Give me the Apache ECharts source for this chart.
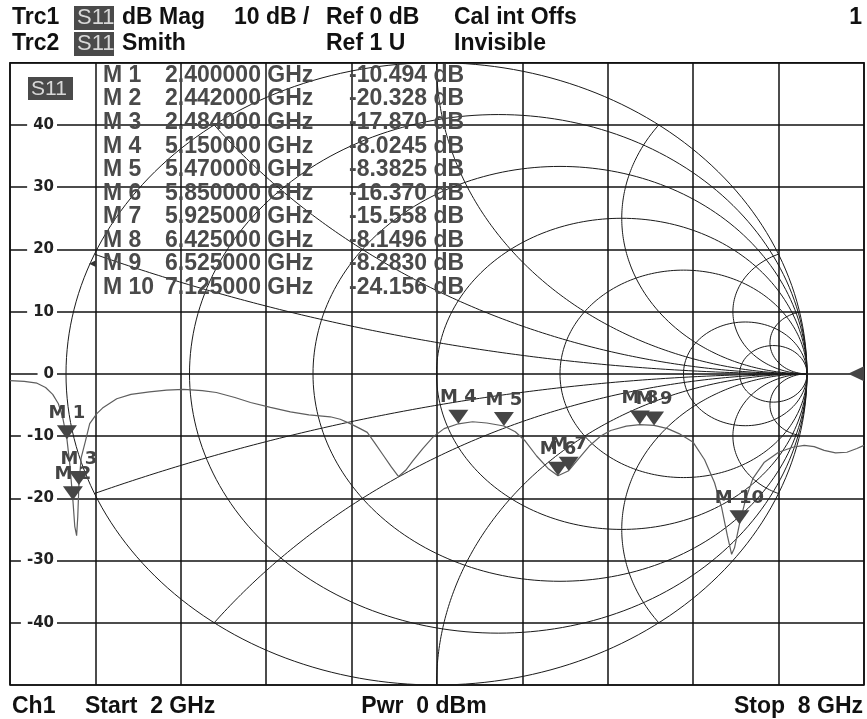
<!DOCTYPE html>
<html>
<head>
<meta charset="utf-8">
<script src="https://cdn.jsdelivr.net/npm/echarts@6/dist/echarts.min.js"></script>
<style>
  html, body { margin: 0; padding: 0; background: #fff; }
  #chart { width: 867px; height: 719px; }
</style>
</head>
<body>
<div id="chart"></div>
<script>
// Trc1: S11 dB Mag
const freqGHz = [2.00, 2.10, 2.19, 2.25, 2.30, 2.34, 2.37, 2.40, 2.42, 2.442, 2.455, 2.468, 2.476, 2.484,
  2.50, 2.53, 2.56, 2.61, 2.65, 2.75, 2.85, 2.98, 3.10, 3.22, 3.35, 3.45, 3.58, 3.69, 3.83, 3.97,
  4.10, 4.25, 4.32, 4.39, 4.46, 4.51, 4.56, 4.62, 4.68, 4.73, 4.78, 4.83, 4.90, 4.97, 5.05, 5.15,
  5.25, 5.35, 5.47, 5.55, 5.62, 5.70, 5.78, 5.85, 5.925, 6.00, 6.07, 6.15, 6.22, 6.33, 6.425, 6.525,
  6.62, 6.70, 6.80, 6.88, 6.95, 7.00, 7.04, 7.07, 7.09, 7.125, 7.17, 7.22, 7.30, 7.40, 7.50, 7.58,
  7.65, 7.72, 7.80, 7.88, 7.95, 8.00];
const s11dB = [-1.1, -1.2, -1.5, -2.2, -3.3, -4.8, -7.0, -10.494, -14.5, -20.328, -24.5, -26.0, -23.0, -17.87,
  -13.5, -10.8, -8.0, -6.4, -5.5, -4.0, -3.3, -2.9, -2.6, -2.5, -2.7, -3.0, -3.8, -4.6, -5.4, -6.1,
  -6.6, -6.9, -7.3, -8.0, -8.8, -9.4, -11.0, -13.0, -15.0, -16.5, -15.5, -14.0, -12.0, -10.2, -8.8, -8.0245,
  -7.7, -7.9, -8.3825, -9.3, -10.8, -13.2, -15.2, -16.37, -15.558, -13.5, -11.6, -10.0, -9.1, -8.4, -8.1496, -8.283,
  -8.8, -9.6, -11.0, -13.8, -17.5, -21.5, -26.0, -29.0, -28.0, -24.156, -20.0, -16.8, -14.2, -12.6, -11.8, -11.5,
  -11.7, -12.3, -12.7, -12.6, -12.0, -11.5];

// markers
const markerNames = ['M 1', 'M 2', 'M 3', 'M 4', 'M 5', 'M 6', 'M 7', 'M 8', 'M 9', 'M 10'];
const markerFreq = [2.4, 2.442, 2.484, 5.15, 5.47, 5.85, 5.925, 6.425, 6.525, 7.125];
const markerDb = [-10.494, -20.328, -17.87, -8.0245, -8.3825, -16.37, -15.558, -8.1496, -8.283, -24.156];

// Trc2 Smith grid (trace itself invisible)
const smithR = [0, 0.2, 0.5, 1, 2, 5, 10];
const smithX = [0.2, 0.5, 1, 2, 5, 10];

const chart = echarts.init(document.getElementById('chart'));

function resistanceCircle(r) {
  const cx = r / (1 + r), rad = 1 / (1 + r), pts = [];
  for (let i = 0; i <= 240; i++) {
    const a = (i / 240) * 2 * Math.PI;
    pts.push([cx + rad * Math.cos(a), rad * Math.sin(a)]);
  }
  return pts;
}

function reactanceArc(x) {
  const ax = Math.abs(x), c = 1 / ax, sign = x > 0 ? 1 : -1;
  const px = (ax * ax - 1) / (ax * ax + 1), py = 2 * ax / (ax * ax + 1);
  let end = Math.atan2(py - c, px - 1);
  if (end > -Math.PI / 2) end -= 2 * Math.PI;
  const start = -Math.PI / 2, pts = [];
  for (let i = 0; i <= 160; i++) {
    const a = start + (end - start) * i / 160;
    pts.push([1 + c * Math.cos(a), sign * (c + c * Math.sin(a))]);
  }
  return pts;
}

const smithSeries = [];
smithR.forEach(r => smithSeries.push(resistanceCircle(r)));
smithX.forEach(x => { smithSeries.push(reactanceArc(x)); smithSeries.push(reactanceArc(-x)); });

const font = 'bold 23px "Liberation Sans", Arial, sans-serif';
const txt = (x, y, text, extra) => ({
  type: 'text', x, y, z: 10,
  style: Object.assign({ text, font, fill: '#111', textVerticalAlign: 'middle' }, extra || {})
});

const graphic = [
  txt(12, 18, 'Trc1'),
  txt(12, 44, 'Trc2'),
  { type: 'rect', z: 9, shape: { x: 74, y: 6, width: 40, height: 24 }, style: { fill: '#4a4a4a' } },
  { type: 'rect', z: 9, shape: { x: 74, y: 32, width: 40, height: 24 }, style: { fill: '#4a4a4a' } },
  txt(77, 18, 'S11', { font: '22px "Liberation Sans", Arial, sans-serif', fill: '#d8d8d8' }),
  txt(77, 44, 'S11', { font: '22px "Liberation Sans", Arial, sans-serif', fill: '#d8d8d8' }),
  txt(122, 18, 'dB Mag'),
  txt(122, 44, 'Smith'),
  txt(234, 18, '10 dB /'),
  txt(326, 18, 'Ref 0 dB'),
  txt(326, 44, 'Ref 1 U'),
  txt(454, 18, 'Cal int Offs'),
  txt(454, 44, 'Invisible'),
  txt(862, 18, '1', { textAlign: 'right' }),
  txt(12, 707, 'Ch1'),
  txt(85, 707, 'Start  2 GHz'),
  txt(424, 707, 'Pwr  0 dBm', { textAlign: 'center' }),
  txt(863, 707, 'Stop  8 GHz', { textAlign: 'right' }),
  { type: 'rect', z: 9, shape: { x: 28, y: 77, width: 45, height: 23 }, style: { fill: '#4a4a4a' } },
  txt(31, 89, 'S11', { font: '21px "Liberation Sans", Arial, sans-serif', fill: '#d8d8d8' })
];

// marker table
const tableFont = 'bold 23px "Liberation Sans", Arial, sans-serif';
markerNames.forEach((name, i) => {
  const y = 75.5 + i * 23.56;
  const st = { font: tableFont, fill: '#4a4a4a' };
  graphic.push(txt(103, y, name, st));
  graphic.push(txt(165, y, markerFreq[i].toFixed(6) + ' GHz', st));
  graphic.push(txt(349, y, markerDb[i].toPrecision(5) + ' dB', st));
});
graphic.push(txt(89, 75.5 + 8 * 23.56, '\u25C0', { font: '9px "DejaVu Sans", sans-serif', fill: '#333' }));

const option = {
  animation: false,
  backgroundColor: '#fff',
  graphic,
  grid: [
    { left: 10, right: 3, top: 62.7, bottom: 34, show: true, borderColor: '#111', borderWidth: 1.6, backgroundColor: 'transparent' },
    { left: 66, right: 60, top: 62.7, bottom: 34 }
  ],
  xAxis: [
    { gridIndex: 0, type: 'value', min: 2, max: 8, show: false },
    {
      gridIndex: 0, type: 'value', min: 0, max: 10, interval: 1,
      axisLine: { show: false }, axisTick: { show: false }, axisLabel: { show: false },
      splitLine: { show: true, lineStyle: { color: '#111', width: 1.5 } }
    },
    { gridIndex: 1, type: 'value', min: -1, max: 1, show: false }
  ],
  yAxis: [
    {
      gridIndex: 0, type: 'value', min: -50, max: 50, interval: 10, position: 'left',
      axisLine: { show: false }, axisTick: { show: false }, axisLabel: { show: false },
      splitLine: { show: true, lineStyle: { color: '#111', width: 1.5 } }
    },
    {
      gridIndex: 0, type: 'value', min: -50, max: 50, interval: 10, z: 5, position: 'left', offset: 0,
      axisLine: { show: false }, axisTick: { show: false }, splitLine: { show: false },
      axisLabel: {
        inside: true, margin: 47, align: 'right', showMinLabel: false, showMaxLabel: false,
        fontFamily: '"DejaVu Sans", sans-serif', fontWeight: 'bold', fontSize: 15, color: '#222',
        backgroundColor: '#fff', padding: [1, 3, 1, 6]
      }
    },
    { gridIndex: 1, type: 'value', min: -1, max: 1, show: false }
  ],
  series: smithSeries.map(pts => ({
    type: 'line', xAxisIndex: 2, yAxisIndex: 2, data: pts, showSymbol: false, silent: true,
    z: 1, lineStyle: { color: '#1a1a1a', width: 1 }
  })).concat([{
    type: 'line', xAxisIndex: 0, yAxisIndex: 0, name: 'S11',
    data: freqGHz.map((f, i) => [f, s11dB[i]]),
    showSymbol: false, z: 3,
    lineStyle: { color: '#5e5e5e', width: 1.2 },
    markPoint: {
      symbol: 'path://M0,0L20,0L10,14Z',
      symbolSize: [20, 14],
      symbolOffset: [0, -7],
      itemStyle: { color: '#454545' },
      label: {
        show: true, position: 'top', distance: 3, formatter: '{b}',
        fontFamily: '"DejaVu Sans", sans-serif', fontWeight: 'bold', fontSize: 18, color: '#444'
      },
      data: markerNames.map((n, i) => ({ name: n, coord: [markerFreq[i], markerDb[i]] })).concat([{
        name: 'ref', coord: [8, 0], symbol: 'path://M0,7L16,0L16,14Z', symbolSize: [16, 15],
        symbolOffset: [-8, 0], label: { show: false }
      }])
    }
  }])
};

chart.setOption(option);
</script>
</body>
</html>
